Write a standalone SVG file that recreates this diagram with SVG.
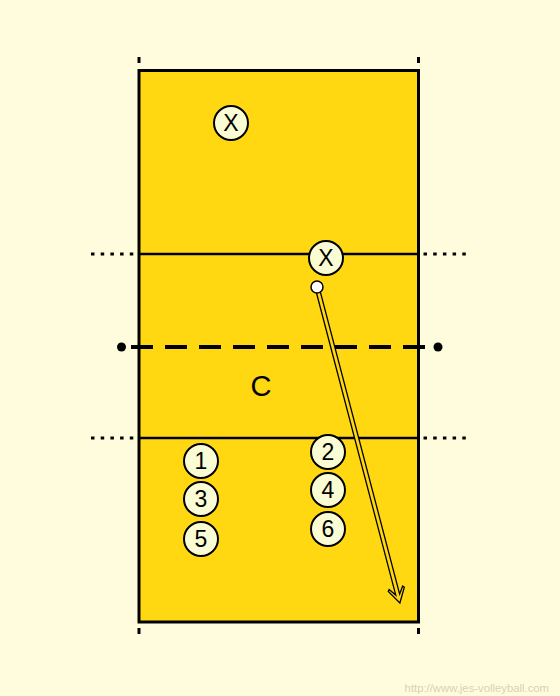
<svg xmlns="http://www.w3.org/2000/svg" width="560" height="696" viewBox="0 0 560 696">
<style>
.pl{fill:#FAFCD3;stroke:#000;stroke-width:2}
.t{font-family:"Liberation Sans",Arial,sans-serif;font-size:23px;fill:#000;text-anchor:middle}
.dot{stroke:#000;stroke-width:3;stroke-dasharray:3.5 6.2;fill:none}
.tick{stroke:#000;stroke-width:3}
</style>
<rect width="560" height="696" fill="#FFFCDE"/>
<g id="court">
<rect x="139" y="70.5" width="279.5" height="551.5" fill="#FFD811" stroke="#000" stroke-width="3"/>
<line class="tick" x1="139" y1="57" x2="139" y2="63"/>
<line class="tick" x1="418.5" y1="57" x2="418.5" y2="63"/>
<line class="tick" x1="139" y1="628" x2="139" y2="634"/>
<line class="tick" x1="418.5" y1="628" x2="418.5" y2="634"/>
<line x1="139" y1="254" x2="418.5" y2="254" stroke="#000" stroke-width="2.6"/>
<line x1="139" y1="438" x2="418.5" y2="438" stroke="#000" stroke-width="2.6"/>
<line class="dot" x1="91" y1="254" x2="137" y2="254"/>
<line class="dot" x1="423.5" y1="254" x2="468" y2="254"/>
<line class="dot" x1="91" y1="438" x2="137" y2="438"/>
<line class="dot" x1="423.5" y1="438" x2="468" y2="438"/>
</g>
<g id="net">
<line x1="131" y1="347" x2="427" y2="347" stroke="#000" stroke-width="4" stroke-dasharray="22 12"/>
<circle cx="121.5" cy="347" r="4.5" fill="#000"/>
<circle cx="438" cy="347" r="4.5" fill="#000"/>
</g>
<text x="261" y="396" class="t" style="font-size:29px">C</text>
<g id="connectors">
<g transform="translate(317,287) rotate(-14.7)">
<polygon points="-2,0 -2,318 -7,311 -8.3,312.5 0,326.7 8.3,312.5 7,311 2,318 2,0" fill="#FFD811" stroke="#000" stroke-width="1.3" stroke-linejoin="miter"/>
</g>
</g>
<g id="x1"><circle class="pl" cx="231" cy="123" r="17"/><text class="t" x="231" y="131">X</text></g>
<g id="x2"><circle class="pl" cx="326" cy="258" r="17"/><text class="t" x="326" y="266">X</text></g>
<g id="ball"><circle cx="317" cy="287" r="6" fill="#fff" stroke="#000" stroke-width="1.5"/></g>
<g id="p1"><circle class="pl" cx="201" cy="461" r="17"/><text class="t" x="201" y="469">1</text></g>
<g id="p3"><circle class="pl" cx="201" cy="499" r="17"/><text class="t" x="201" y="507">3</text></g>
<g id="p5"><circle class="pl" cx="201" cy="539" r="17"/><text class="t" x="201" y="547">5</text></g>
<g id="p2"><circle class="pl" cx="328" cy="452" r="17"/><text class="t" x="328" y="460">2</text></g>
<g id="p4"><circle class="pl" cx="328" cy="490" r="17"/><text class="t" x="328" y="498">4</text></g>
<g id="p6"><circle class="pl" cx="328" cy="529" r="17"/><text class="t" x="328" y="537">6</text></g>
<text x="549" y="692" style="font-family:'Liberation Sans',Arial,sans-serif;font-size:11.3px;fill:#D6D2B2;text-anchor:end">http://www.jes-volleyball.com</text>
</svg>
